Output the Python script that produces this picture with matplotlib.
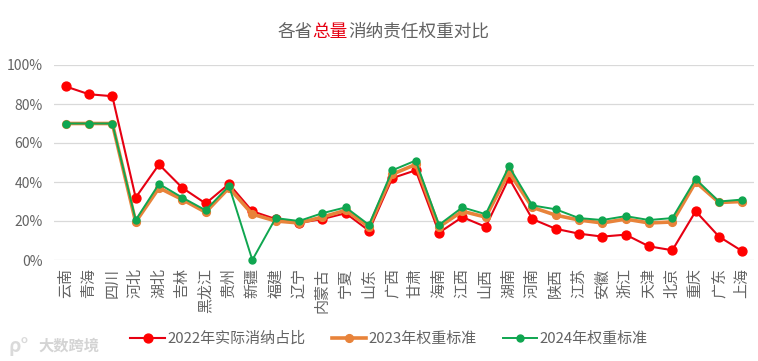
import matplotlib
matplotlib.use("Agg")
import matplotlib.pyplot as plt
from matplotlib.ticker import FuncFormatter

plt.rcParams['font.family'] = ['Noto Sans CJK SC', 'DejaVu Sans']

provinces = ['云南','青海','四川','河北','湖北','吉林','黑龙江','贵州','新疆','福建','辽宁','内蒙古','宁夏','山东','广西','甘肃','海南','江西','山西','湖南','河南','陕西','江苏','安徽','浙江','天津','北京','重庆','广东','上海']
actual_2022 = [89,85,84,32,49,37,29,39,25,21,19,21,24,15,42,46,14,22,17,42,21,16,13.5,12,13,7,5,25,12,4.5]
weight_2023 = [70,70,70,19.5,37,31,24.5,37,23.5,20,19,22,25.5,17,44,49,17,25,22,45,27,23,20.5,19,21,19,19.5,40,29.5,30]
weight_2024 = [70,70,70,20.5,39,32,25.5,38,0,21.5,20,24,27,18,46,51,18,27,23.5,48,28,26,21.5,20.5,22.5,20.5,21.5,41.5,30,31]
yticks = [0,20,40,60,80,100]
title_parts = ['各省', '总量', '消纳责任权重对比']

W, H = 758, 361
GRAY = '#636363'
fig = plt.figure(figsize=(W/100, H/100), dpi=100, facecolor='white')
ax = fig.add_axes([54/W, 1-260/H, 700/W, 195/H])
x = range(len(provinces))

ax.plot(x, actual_2022, color='#E60012', lw=1.5, marker='o', ms=6.4, mfc='#FF0000', mec='#FF0000', label='2022年实际消纳占比', zorder=3, clip_on=False)
ax.plot(x, weight_2023, color='#E8833A', lw=2.6, marker='o', ms=5.6, mfc='#E8833A', mec='#E8833A', label='2023年权重标准', zorder=4, clip_on=False)
ax.plot(x, weight_2024, color='#0FA650', lw=1.4, marker='o', ms=5.0, mfc='#0FA650', mec='#0FA650', label='2024年权重标准', zorder=5, clip_on=False)

ax.set_xlim(-0.5, len(provinces)-0.5)
ax.set_ylim(0, 100)
ax.set_yticks(yticks)
ax.yaxis.set_major_formatter(FuncFormatter(lambda v, _: f'{v:.0f}%'))
ax.set_xticks(list(x))
ax.set_xticklabels(provinces, rotation=90, fontsize=10.8, color=GRAY)
ax.tick_params(axis='x', length=0, pad=6)
ax.tick_params(axis='y', length=0, pad=8, labelsize=10, labelcolor=GRAY)
ax.grid(axis='y', color='#D9D9D9', lw=0.9)
ax.set_axisbelow(True)
for s in ax.spines.values():
    s.set_visible(False)

# title in three pieces, the middle one in red
cw = 17.7
px = 278
for part, col in zip(title_parts, [GRAY, '#E60012', GRAY]):
    fig.text((px - (1 if col != GRAY else 0))/W, 1-32/H, part, fontsize=12.7, color=col, va='center', ha='left')
    px += cw*len(part)

fig.legend(loc='center', bbox_to_anchor=(389/W, 1-339/H), ncol=3, frameon=False, fontsize=10.8,
           labelcolor=GRAY, handlelength=2.3, columnspacing=1.75, handletextpad=0.15, borderpad=0)

# watermark
fig.text(38/W, 1-346/H, '大数跨境', fontsize=11, color='#D4D4D4', va='center', ha='left', fontweight='bold')
fig.text(8/W, 1-346/H, 'ρ°', fontsize=14, color='#DADADA', va='center', ha='left', fontweight='bold')

fig.savefig('out.png', dpi=100)
